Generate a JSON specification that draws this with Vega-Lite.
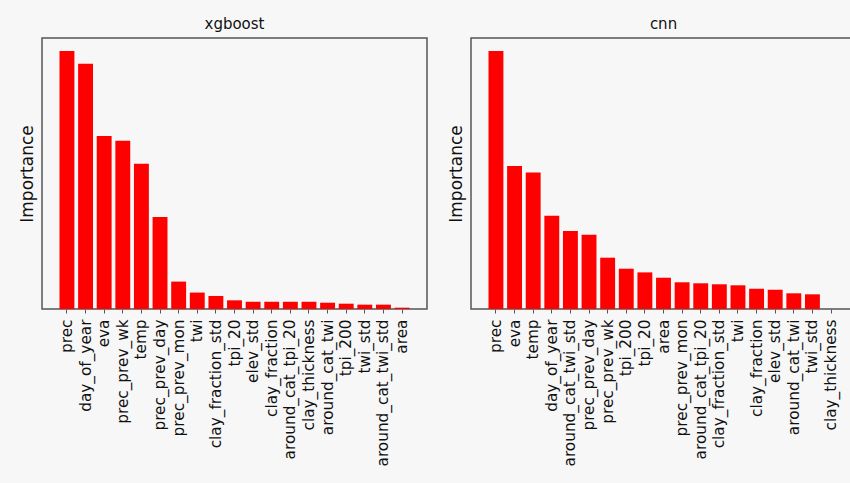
{
  "$schema": "https://vega.github.io/schema/vega-lite/v6.json",
  "background": "#f7f7f7",
  "padding": {"left": 17, "top": 16, "right": 10, "bottom": 40},
  "datasets": {
    "xgb": [
      {"feature": "prec", "importance": 0.2138},
      {"feature": "day_of_year", "importance": 0.2031},
      {"feature": "eva", "importance": 0.1433},
      {"feature": "prec_prev_wk", "importance": 0.1394},
      {"feature": "temp", "importance": 0.1204},
      {"feature": "prec_prev_day", "importance": 0.0763},
      {"feature": "prec_prev_mon", "importance": 0.0227},
      {"feature": "twi", "importance": 0.0136},
      {"feature": "clay_fraction_std", "importance": 0.0108},
      {"feature": "tpi_20", "importance": 0.0072},
      {"feature": "elev_std", "importance": 0.0060},
      {"feature": "clay_fraction", "importance": 0.0060},
      {"feature": "around_cat_tpi_20", "importance": 0.0060},
      {"feature": "clay_thickness", "importance": 0.0060},
      {"feature": "around_cat_twi", "importance": 0.0052},
      {"feature": "tpi_200", "importance": 0.0044},
      {"feature": "twi_std", "importance": 0.0036},
      {"feature": "around_cat_twi_std", "importance": 0.0036},
      {"feature": "area", "importance": 0.0011}
    ],
    "cnn": [
      {"feature": "prec", "importance": 0.2319},
      {"feature": "eva", "importance": 0.1284},
      {"feature": "temp", "importance": 0.1227},
      {"feature": "day_of_year", "importance": 0.0838},
      {"feature": "around_cat_twi_std", "importance": 0.0700},
      {"feature": "prec_prev_day", "importance": 0.0667},
      {"feature": "prec_prev_wk", "importance": 0.0461},
      {"feature": "tpi_200", "importance": 0.0362},
      {"feature": "tpi_20", "importance": 0.0329},
      {"feature": "area", "importance": 0.0281},
      {"feature": "prec_prev_mon", "importance": 0.0240},
      {"feature": "around_cat_tpi_20", "importance": 0.0231},
      {"feature": "clay_fraction_std", "importance": 0.0222},
      {"feature": "twi", "importance": 0.0213},
      {"feature": "clay_fraction", "importance": 0.0182},
      {"feature": "elev_std", "importance": 0.0173},
      {"feature": "around_cat_twi", "importance": 0.0141},
      {"feature": "twi_std", "importance": 0.0132},
      {"feature": "clay_thickness", "importance": 0.0}
    ]
  },
  "spacing": 18,
  "hconcat": [
    {
      "title": {"text": "xgboost"},
      "width": 385,
      "height": 271,
      "data": {"name": "xgb"},
      "mark": {"type": "bar", "color": "#ff0000"},
      "encoding": {
        "x": {"field": "feature", "type": "nominal", "sort": null,
              "scale": {"paddingInner": 0.2, "paddingOuter": 0.94}},
        "y": {"field": "importance", "type": "quantitative",
              "scale": {"domain": [0, 0.2245], "nice": false},
              "axis": {"title": "Importance"}}
      }
    },
    {
      "title": {"text": "cnn"},
      "width": 385,
      "height": 271,
      "data": {"name": "cnn"},
      "mark": {"type": "bar", "color": "#ff0000"},
      "encoding": {
        "x": {"field": "feature", "type": "nominal", "sort": null,
              "scale": {"paddingInner": 0.2, "paddingOuter": 0.94}},
        "y": {"field": "importance", "type": "quantitative",
              "scale": {"domain": [0, 0.2435], "nice": false},
              "axis": {"title": "Importance"}}
      }
    }
  ],
  "config": {
    "font": "DejaVu Sans",
    "view": {"stroke": "#555555", "strokeWidth": 1.5},
    "title": {"fontSize": 15, "fontWeight": "normal", "color": "#111111", "offset": 6},
    "axisX": {
      "title": null,
      "labelAngle": -90,
      "labelFontSize": 15.3,
      "labelColor": "#111111",
      "labelPadding": 6,
      "tickSize": 4,
      "tickColor": "#555555",
      "domain": false,
      "grid": false
    },
    "axisY": {
      "labels": false,
      "ticks": false,
      "grid": false,
      "domain": false,
      "titleFontSize": 17,
      "titleFontWeight": "normal",
      "titleColor": "#111111",
      "titlePadding": 6
    }
  }
}
